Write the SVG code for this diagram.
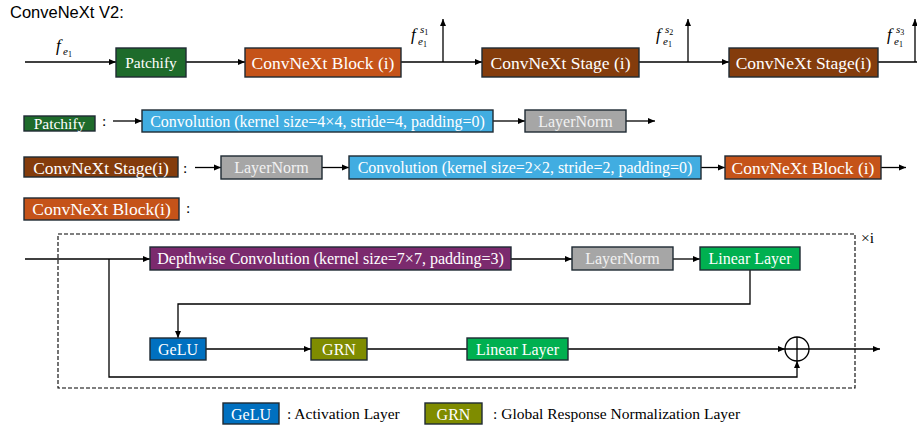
<svg xmlns="http://www.w3.org/2000/svg" width="917" height="426" viewBox="0 0 917 426">
<defs>
<marker id="ah" markerUnits="userSpaceOnUse" markerWidth="8" markerHeight="7" refX="7" refY="3.5" orient="auto">
<path d="M0,0.5 L7,3.5 L0,6.5 z" fill="#000"/>
</marker>
<style>
.bx{stroke:#1e2a33;stroke-width:1.4}
.t{font-family:"Liberation Serif","Times New Roman",serif;fill:#fff;text-anchor:middle}
.big{font-size:17.5px}
.mid{font-size:16px}
.lt{fill:#f2f2f2}
.k{font-family:"Liberation Serif","Times New Roman",serif;fill:#000;font-size:15.5px}
.c{fill:none;stroke:#000;stroke-width:1.3}
.ca{fill:none;stroke:#000;stroke-width:1.3;marker-end:url(#ah)}
.m{font-family:"Liberation Serif","Times New Roman",serif;font-style:italic;fill:#000}
.patch{fill:#1e6b2b}.blk{fill:#c55319}.stg{fill:#843c0c}.conv{fill:#41ade1}.ln{fill:#a6a6a6}.dw{fill:#7b2a6e}.lin{fill:#00b050}.gelu{fill:#0070c0}.grn{fill:#7f8c00}
</style>
</defs>
<rect width="917" height="426" fill="#fff"/>
<text x="10" y="18" font-family="Liberation Sans, Arial, sans-serif" font-size="16.5" fill="#000">ConveNeXt V2:</text>

<g id="connectors">
<path class="ca" d="M25,62 H116"/>
<path class="ca" d="M186,62 H245"/>
<path class="ca" d="M401,62 H482"/>
<path class="ca" d="M443,62 V19"/>
<path class="ca" d="M639,62 H729"/>
<path class="ca" d="M688,62 V19"/>
<path class="c" d="M878,62 H917"/>
<path class="ca" d="M915,62 V19"/>
<path class="ca" d="M113,121 H142"/>
<path class="ca" d="M493,121 H525"/>
<path class="ca" d="M626,121 H655"/>
<path class="ca" d="M195,167.5 H221"/>
<path class="ca" d="M322,167.5 H349"/>
<path class="ca" d="M701,167.5 H725"/>
<path class="ca" d="M881,167.5 H906"/>
<path class="ca" d="M25,259 H150"/>
<path class="ca" d="M109,259 V377 H797 V361"/>
<path class="ca" d="M511,259 H572"/>
<path class="ca" d="M673,259 H700"/>
<path class="ca" d="M750,270 V304 H178 V338"/>
<path class="ca" d="M206,349 H311"/>
<path class="c" d="M367,349 H467"/>
<path class="ca" d="M568,349 H785"/>
<path class="ca" d="M809,349 H880"/>
</g>

<g id="repeat-box">
<rect x="58" y="234" width="797" height="154" fill="none" stroke="#000" stroke-width="1.1" stroke-dasharray="4,2"/>
<text class="k" x="861" y="243" font-size="15">×i</text>
</g>

<g id="labels-math">
<text class="m" x="56" y="51" font-size="17">f</text>
<text class="m" x="63" y="55" font-size="11">e<tspan font-style="normal" font-size="8" dy="2">1</tspan></text>
<text class="m" x="411" y="40" font-size="17">f</text>
<text class="m" x="418" y="45" font-size="11">e<tspan font-style="normal" font-size="8" dy="2">1</tspan></text>
<text class="m" x="420" y="33" font-size="11">s<tspan font-style="normal" font-size="8" dy="2">1</tspan></text>
<text class="m" x="656" y="40" font-size="17">f</text>
<text class="m" x="663" y="45" font-size="11">e<tspan font-style="normal" font-size="8" dy="2">1</tspan></text>
<text class="m" x="665" y="33" font-size="11">s<tspan font-style="normal" font-size="8" dy="2">2</tspan></text>
<text class="m" x="887" y="40" font-size="17">f</text>
<text class="m" x="894" y="45" font-size="11">e<tspan font-style="normal" font-size="8" dy="2">1</tspan></text>
<text class="m" x="896" y="33" font-size="11">s<tspan font-style="normal" font-size="8" dy="2">3</tspan></text>
</g>

<g id="n-patchify"><rect class="bx patch" x="116" y="48" width="70" height="29"/><text class="t" x="151" y="68" font-size="15.5">Patchify</text></g>
<g id="n-block1"><rect class="bx blk" x="245" y="48" width="156" height="29"/><text class="t big" x="323" y="68.5">ConvNeXt Block (i)</text></g>
<g id="n-stage1"><rect class="bx stg" x="482" y="48" width="157" height="29"/><text class="t big" x="560.5" y="68.5">ConvNeXt Stage (i)</text></g>
<g id="n-stage2"><rect class="bx stg" x="729" y="48" width="149" height="29"/><text class="t big" x="803.5" y="68.5">ConvNeXt Stage(i)</text></g>

<g id="d-patchify"><rect class="bx patch" x="24" y="116" width="71" height="15"/><text class="t" x="59.5" y="128.5" font-size="15.5">Patchify</text><text class="k" x="102" y="126">:</text></g>
<g id="p-conv"><rect class="bx conv" x="142" y="110" width="351" height="22"/><text class="t mid" x="317.5" y="126.5">Convolution (kernel size=4×4, stride=4, padding=0)</text></g>
<g id="p-ln"><rect class="bx ln" x="525" y="110" width="101" height="22"/><text class="t mid lt" x="575.5" y="126.5">LayerNorm</text></g>

<g id="d-stage"><rect class="bx stg" x="24" y="157" width="154" height="20"/><text class="t big" x="101" y="173.5">ConvNeXt Stage(i)</text><text class="k" x="183" y="173">:</text></g>
<g id="s-ln"><rect class="bx ln" x="221" y="156" width="101" height="23"/><text class="t mid lt" x="271.5" y="173">LayerNorm</text></g>
<g id="s-conv"><rect class="bx conv" x="349" y="156" width="352" height="23"/><text class="t mid" x="525" y="173">Convolution (kernel size=2×2, stride=2, padding=0)</text></g>
<g id="s-block"><rect class="bx blk" x="725" y="156" width="156" height="23"/><text class="t big" x="803" y="173.5">ConvNeXt Block (i)</text></g>

<g id="d-block"><rect class="bx blk" x="24" y="198" width="155" height="22"/><text class="t big" x="101.5" y="215">ConvNeXt Block(i)</text><text class="k" x="186" y="213">:</text></g>
<g id="b-dw"><rect class="bx dw" x="150" y="247" width="361" height="23"/><text class="t mid" x="330.5" y="264">Depthwise Convolution (kernel size=7×7, padding=3)</text></g>
<g id="b-ln"><rect class="bx ln" x="572" y="247" width="101" height="23"/><text class="t mid lt" x="622.5" y="264">LayerNorm</text></g>
<g id="b-lin1"><rect class="bx lin" x="700" y="247" width="100" height="23"/><text class="t mid" x="750" y="264">Linear Layer</text></g>
<g id="b-gelu"><rect class="bx gelu" x="150" y="338" width="56" height="22"/><text class="t mid" x="178" y="354.5">GeLU</text></g>
<g id="b-grn"><rect class="bx grn" x="311" y="338" width="56" height="22"/><text class="t mid" x="339" y="354.5">GRN</text></g>
<g id="b-lin2"><rect class="bx lin" x="467" y="338" width="101" height="22"/><text class="t mid" x="517.5" y="354.5">Linear Layer</text></g>
<g id="b-add"><circle cx="797" cy="349" r="12" fill="#fff" stroke="#000" stroke-width="1.3"/><path d="M785,349 H809 M797,337 V361" stroke="#000" stroke-width="1.3"/></g>

<g id="legend-gelu"><rect class="bx gelu" x="223" y="403" width="56" height="21"/><text class="t mid" x="251" y="419.5">GeLU</text><text class="k" x="287" y="419">: Activation Layer</text></g>
<g id="legend-grn"><rect class="bx grn" x="425" y="403" width="57" height="21"/><text class="t mid" x="453.5" y="419.5">GRN</text><text class="k" x="493" y="419">: Global Response Normalization Layer</text></g>
</svg>
